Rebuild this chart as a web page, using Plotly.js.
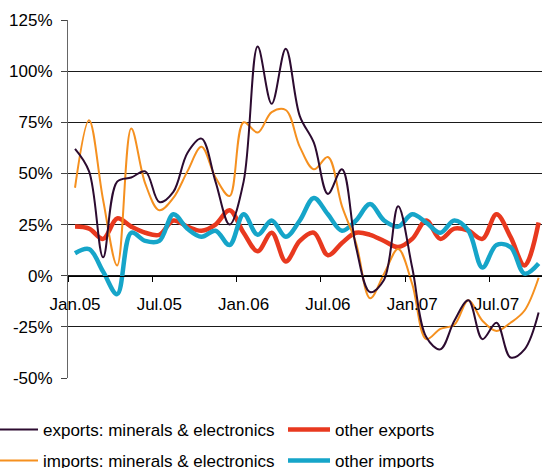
<!DOCTYPE html>
<html>
<head>
<meta charset="utf-8">
<script src="https://cdn.plot.ly/plotly-3.0.1.min.js"></script>
<style>
  html, body { margin: 0; padding: 0; background: #fff; }
  #chart { width: 542px; height: 468px; }
</style>
</head>
<body>
<div id="chart"></div>
<script>
// Monthly categories Jan.05 .. Oct.07
const months = [
  "Jan.05","Feb.05","Mar.05","Apr.05","May.05","Jun.05","Jul.05","Aug.05","Sep.05","Oct.05","Nov.05","Dec.05",
  "Jan.06","Feb.06","Mar.06","Apr.06","May.06","Jun.06","Jul.06","Aug.06","Sep.06","Oct.06","Nov.06","Dec.06",
  "Jan.07","Feb.07","Mar.07","Apr.07","May.07","Jun.07","Jul.07","Aug.07","Sep.07","Oct.07"
];
const tickLabels = ["Jan.05","Jul.05","Jan.06","Jul.06","Jan.07","Jul.07"];
const yTicks = [-50, -25, 0, 25, 50, 75, 100, 125];

// Growth rates, %
const exportsMinerals = [62, 51, 9, 46, 48, 51, 36, 41, 60, 67, 46, 25,
                         46, 112, 84, 111, 78, 65, 40, 52, 14, -8, -2, 34,
                         4, -30, -36, -22, -12, -31, -23, -40, -36, -18];
const otherExports    = [24, 23, 18, 28, 24, 21, 20, 27, 24, 22, 25, 32,
                         21, 12, 21, 7, 17, 21, 10, 16, 21, 20, 17, 14,
                         18, 27, 18, 23, 22, 18, 30, 19, 5, 26];
const importsMinerals = [43, 76, 37, 5, 72, 45, 32, 38, 51, 63, 48, 39,
                         75, 70, 80, 81, 63, 52, 58, 34, 16, -11, 1, 13,
                         -4, -31, -26, -24, -12, -22, -27, -23, -17, -1];
const otherImports    = [11, 13, 2, -9, 21, 17, 17, 30, 23, 19, 22, 15,
                         30, 20, 27, 19, 27, 38, 30, 22, 27, 35, 27, 24,
                         30, 26, 21, 27, 22, 4, 15, 14, 1, 6];

const FONT = "'Liberation Sans', Arial, sans-serif";
const FS = 17;
const W = 542, H = 468;
const ML = 68, PW = 474;
const zeroPos = 50 / 175; // y=0 within the y domain

const traces = [
  {x: months, y: otherExports, name: "other exports", type: "scatter", mode: "lines",
   line: {color: "#e8391f", width: 4.5, shape: "spline", smoothing: 1},
   legend: "legend2", hoverinfo: "x+y"},
  {x: months, y: otherImports, name: "other imports", type: "scatter", mode: "lines",
   line: {color: "#16a5c9", width: 4.5, shape: "spline", smoothing: 1},
   legend: "legend4", hoverinfo: "x+y"},
  {x: months, y: importsMinerals, name: "imports: minerals & electronics", type: "scatter", mode: "lines",
   line: {color: "#f5901f", width: 2, shape: "spline", smoothing: 1},
   legend: "legend3", hoverinfo: "x+y"},
  {x: months, y: exportsMinerals, name: "exports: minerals & electronics", type: "scatter", mode: "lines",
   line: {color: "#2c0b30", width: 2, shape: "spline", smoothing: 1},
   legend: "legend", hoverinfo: "x+y"},
  // carrier for the boundary tick marks axis
  {x: [-0.5], y: [null], xaxis: "x2", yaxis: "y", mode: "lines", showlegend: false, hoverinfo: "skip"}
];

const xr = [-0.5, 33.24];

function leg(px, py) {
  return {
    orientation: "h", xref: "paper", yref: "container",
    x: (px - ML) / PW, y: (H - py) / H, xanchor: "left", yanchor: "middle",
    itemwidth: 42,
    font: {family: FONT, size: FS, color: "#000"}, bgcolor: "rgba(0,0,0,0)"
  };
}

const layout = {
  width: W, height: H,
  margin: {l: ML, r: 0, t: 20, b: 90, pad: 0, autoexpand: false},
  paper_bgcolor: "#fff", plot_bgcolor: "#fff",
  font: {family: FONT, size: FS, color: "#000"},
  showlegend: true,
  xaxis: {
    type: "category", range: xr, anchor: "free", position: zeroPos,
    tickmode: "array", tickvals: tickLabels, ticktext: tickLabels,
    ticks: "", showline: false, showgrid: false, zeroline: false,
    ticklabelstandoff: 16,
    tickfont: {family: FONT, size: FS, color: "#000"}
  },
  xaxis2: {
    type: "linear", range: xr, overlaying: "x", anchor: "free", position: zeroPos,
    tickmode: "array", tickvals: [-0.5, 5.5, 11.5, 17.5, 23.5, 29.5],
    ticks: "outside", ticklen: 5, tickcolor: "#000", tickwidth: 1,
    showticklabels: false, showline: true, linecolor: "#000", linewidth: 1,
    showgrid: false, zeroline: false
  },
  yaxis: {
    range: [-50, 125], tickmode: "array", tickvals: yTicks,
    ticktext: yTicks.map(v => v + "%"),
    showgrid: true, gridcolor: "#1a1a1a", gridwidth: 1,
    zeroline: false, showline: true, linecolor: "#666", linewidth: 1,
    ticks: "outside", ticklen: 6, tickcolor: "#444",
    ticklabelstandoff: 5,
    tickfont: {family: FONT, size: FS, color: "#000"}
  },
  legend: leg(-9, 430),
  legend2: leg(283, 430),
  legend3: leg(-9, 461),
  legend4: leg(283, 461)
};

Plotly.newPlot("chart", traces, layout, {displayModeBar: false, staticPlot: true});
</script>
</body>
</html>
